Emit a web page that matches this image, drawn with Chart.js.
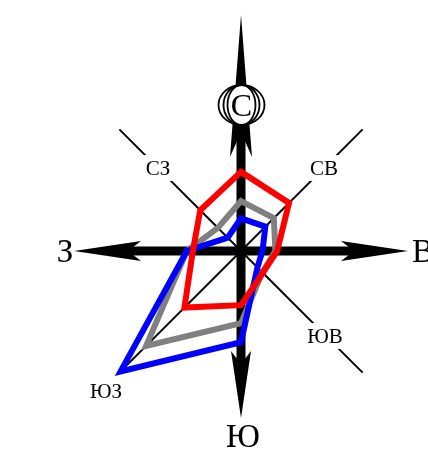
<!DOCTYPE html>
<html><head><meta charset="utf-8">
<script src="https://cdn.jsdelivr.net/npm/chart.js@4/dist/chart.umd.min.js"></script>
<style>html,body{margin:0;padding:0;background:#fff;}#wrap{width:428px;height:450px;}</style>
</head><body><div id="wrap"><canvas id="c" width="428" height="450"></canvas></div>
<script>
// Directions clockwise from North
const directions = ['С', 'СВ', 'В', 'ЮВ', 'Ю', 'ЮЗ', 'З', 'СЗ'];
// Series values (share of the radius, 0..100)
const redValues  = [46, 39.5, 21, 18, 31.5, 46.5, 28, 33.5];
const grayValues = [29, 27, 20, 17.5, 42, 78, 31.5, 19];
const blueValues = [19, 20, 12.5, 13.5, 53, 99, 31.5, 11];
const scaleMax = 100;

const SERIF = '"Liberation Serif", "DejaVu Serif", serif';

function arrowHead(ctx, cx, cy, ang, tip, barb, notch, hw) {
  const ux = Math.cos(ang), uy = Math.sin(ang);
  const px = -uy, py = ux;
  const P = (d, o) => [cx + ux * d + px * o, cy + uy * d + py * o];
  const t = P(tip, 0), b1 = P(barb, hw), n = P(notch, 0), b2 = P(barb, -hw);
  ctx.beginPath();
  ctx.moveTo(t[0], t[1]);
  ctx.lineTo(b1[0], b1[1]);
  ctx.lineTo(n[0], n[1]);
  ctx.lineTo(b2[0], b2[1]);
  ctx.closePath();
  ctx.fill();
}

function boxedLabel(ctx, text, x, y, size) {
  ctx.font = size + 'px ' + SERIF;
  const w = ctx.measureText(text).width;
  const cap = size * 0.66;
  ctx.fillStyle = '#fff';
  ctx.fillRect(x - w / 2 - 3, y - cap / 2 - 6, w + 6, cap + 12);
  ctx.fillStyle = '#000';
  ctx.textAlign = 'center';
  ctx.textBaseline = 'alphabetic';
  ctx.fillText(text, x, y + cap / 2);
}

const compassPlugin = {
  id: 'compass',
  beforeDatasetsDraw(chart) {
    const s = chart.scales.r;
    const ctx = chart.ctx;
    const cx = s.xCenter, cy = s.yCenter, R = s.drawingArea;
    ctx.save();
    ctx.strokeStyle = '#000';
    ctx.fillStyle = '#000';
    // diagonal lines
    ctx.lineWidth = 2;
    [1, 3, 5, 7].forEach(i => {
      const p = s.getPointPosition(i, R);
      ctx.beginPath(); ctx.moveTo(cx, cy); ctx.lineTo(p.x, p.y); ctx.stroke();
    });
    // main shafts
    ctx.lineWidth = 9;
    ctx.beginPath(); ctx.moveTo(cx, cy - 120); ctx.lineTo(cx, cy + 114); ctx.stroke();
    ctx.beginPath(); ctx.moveTo(cx - 114, cy); ctx.lineTo(cx + 114, cy); ctx.stroke();
    // arrowheads
    arrowHead(ctx, cx, cy, -Math.PI / 2, 236, 94, 119, 11);
    arrowHead(ctx, cx, cy, Math.PI / 2, 167, 100, 113, 10);
    arrowHead(ctx, cx, cy, 0, 167, 100, 113, 10);
    arrowHead(ctx, cx, cy, Math.PI, 167, 100, 113, 10);

    // diagonal labels
    boxedLabel(ctx, directions[7], cx - 83, cy - 83, 21);
    boxedLabel(ctx, directions[1], cx + 83, cy - 83, 21);
    boxedLabel(ctx, directions[3], cx + 84, cy + 85, 21);
    boxedLabel(ctx, directions[5], cx - 135, cy + 140, 21);

    // cardinal labels
    ctx.fillStyle = '#000';
    ctx.textBaseline = 'alphabetic';
    ctx.font = '33px ' + SERIF;
    ctx.textAlign = 'center';
    ctx.fillText(directions[6], cx - 176, cy + 11);
    ctx.fillText(directions[4], cx + 2, cy + 196);
    ctx.textAlign = 'left';
    ctx.fillText(directions[2], cx + 171, cy + 11);

    // North label with rings
    const nx = cx + 0.5, ny = cy - 146;
    ctx.fillStyle = '#fff';
    ctx.beginPath(); ctx.ellipse(nx, ny, 23, 20, 0, 0, Math.PI * 2); ctx.fill();
    ctx.lineWidth = 1.8;
    [23, 18, 14].forEach(rx => {
      ctx.beginPath(); ctx.ellipse(nx, ny, rx, 20, 0, 0, Math.PI * 2); ctx.stroke();
    });
    ctx.fillStyle = '#000';
    ctx.textAlign = 'center';
    ctx.font = '32px ' + SERIF;
    ctx.fillText(directions[0], nx, ny + 10.5);
    ctx.restore();
  }
};

new Chart(document.getElementById('c'), {
  type: 'radar',
  data: {
    labels: directions,
    datasets: [
      { label: 'red', data: redValues, borderColor: '#ff0000', borderWidth: 6, fill: false, pointRadius: 0, tension: 0 },
      { label: 'blue', data: blueValues, borderColor: '#0000ff', borderWidth: 6, fill: false, pointRadius: 0, tension: 0 },
      { label: 'gray', data: grayValues, borderColor: '#808080', borderWidth: 6, fill: false, pointRadius: 0, tension: 0 }
    ]
  },
  options: {
    responsive: false,
    devicePixelRatio: 1,
    animation: false,
    layout: { padding: { left: 69, right: 15, top: 76, bottom: 24 } },
    elements: { line: { borderJoinStyle: 'miter' } },
    plugins: { legend: { display: false }, tooltip: { enabled: false } },
    scales: {
      r: {
        min: 0, max: scaleMax,
        ticks: { display: false },
        grid: { display: false },
        angleLines: { display: false },
        pointLabels: { display: false }
      }
    }
  },
  plugins: [compassPlugin]
});
</script>
</body></html>
